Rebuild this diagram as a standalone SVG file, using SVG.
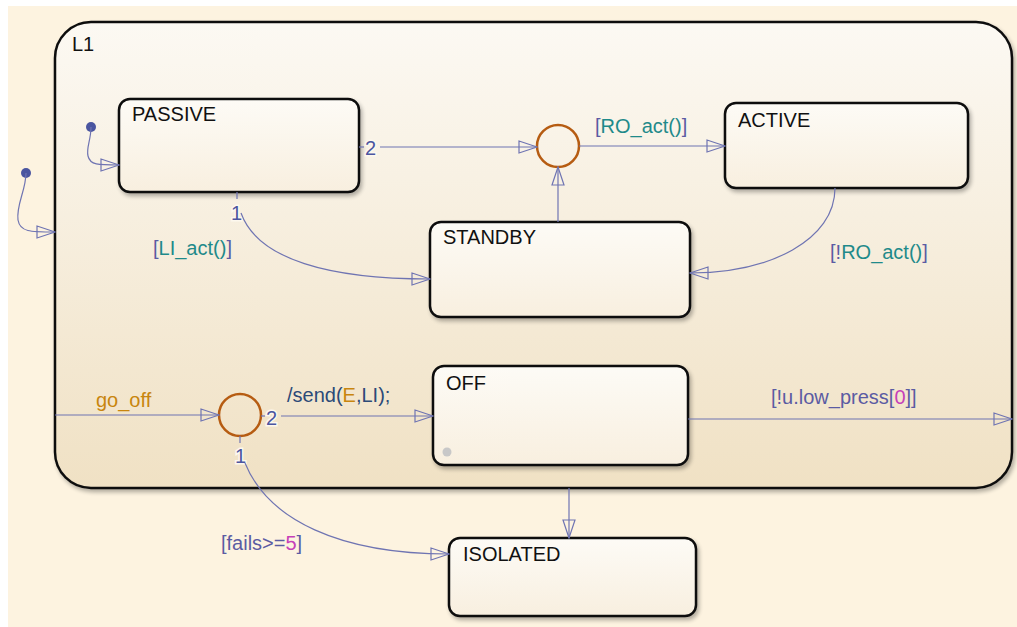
<svg xmlns="http://www.w3.org/2000/svg" width="1017" height="627" viewBox="0 0 1017 627">
<defs>
<linearGradient id="gL1" x1="0" y1="0" x2="0" y2="1">
<stop offset="0" stop-color="#fcf9f3"/>
<stop offset="1" stop-color="#f0e1c4"/>
</linearGradient>
<linearGradient id="gS" x1="0" y1="0" x2="0" y2="1">
<stop offset="0" stop-color="#fdfbf6"/>
<stop offset="1" stop-color="#f8efdf"/>
</linearGradient>
<filter id="sh" x="-10%" y="-10%" width="120%" height="130%">
<feGaussianBlur in="SourceAlpha" stdDeviation="2"/>
<feOffset dx="2" dy="3"/>
<feComponentTransfer><feFuncA type="linear" slope="0.3"/></feComponentTransfer>
<feMerge><feMergeNode/><feMergeNode in="SourceGraphic"/></feMerge>
</filter>
<marker id="arr" viewBox="0 0 20 14" refX="19" refY="7" markerWidth="20" markerHeight="14" markerUnits="userSpaceOnUse" orient="auto">
<path d="M1,1 L19,7 L1,13 Z" fill="none" stroke="#6f74b2" stroke-width="1.2"/>
</marker>
<style>
.st{fill:url(#gS);stroke:#111;stroke-width:2.5;filter:url(#sh)}
.nm{font-family:"Liberation Sans",Arial,sans-serif;font-size:20px;fill:#111}
.cn{fill:none;stroke:#6f74b2;stroke-width:1.2}
.lb{font-family:"Liberation Sans",Arial,sans-serif;font-size:20px}
.br{fill:#5b5ba3}
.tl{fill:#1f8a8a}
.or{fill:#c8850e}
.mg{fill:#c63fb9}
.dk{fill:#2c4a78}
.nb{font-family:"Liberation Sans",Arial,sans-serif;font-size:20px;fill:#4c56a0;paint-order:stroke;stroke:#fdf8ee;stroke-width:3}
.jn{fill:none;stroke:#b65c12;stroke-width:2.5}
.dot{fill:#4a55a0}
</style>
</defs>
<rect x="0" y="0" width="1017" height="627" fill="#ffffff"/>
<rect x="8" y="6" width="1009" height="621" fill="#fdf3e0"/>

<g id="L1">
<rect x="55" y="22" width="957" height="466" rx="36" ry="36" fill="url(#gL1)" stroke="#111" stroke-width="2.5" filter="url(#sh)"/>
<text class="nm" x="72" y="51">L1</text>
</g>

<g id="PASSIVE"><rect class="st" x="119" y="99" width="240" height="93" rx="11"/><text class="nm" x="132" y="121">PASSIVE</text></g>
<g id="ACTIVE"><rect class="st" x="725" y="103" width="243" height="85" rx="11"/><text class="nm" x="738" y="127">ACTIVE</text></g>
<g id="STANDBY"><rect class="st" x="430" y="222" width="260" height="95" rx="11"/><text class="nm" x="443" y="244">STANDBY</text></g>
<g id="OFF"><rect class="st" x="433" y="366" width="255" height="99" rx="11"/><text class="nm" x="446" y="390">OFF</text><circle cx="447" cy="452" r="4.5" fill="#c8c8c8"/></g>
<g id="ISOLATED"><rect class="st" x="449" y="538" width="247" height="78" rx="11"/><text class="nm" x="463" y="561">ISOLATED</text></g>

<g id="J1"><circle class="jn" cx="558" cy="146" r="21"/></g>
<g id="J2"><circle class="jn" cx="240" cy="415" r="21"/></g>

<g id="connectors">
<circle class="dot" cx="26" cy="173" r="5"/>
<path class="cn" d="M26,173 C26,190 16,205 18,220 C20,232 30,232 55,232" marker-end="url(#arr)"/>
<circle class="dot" cx="91" cy="127" r="5"/>
<path class="cn" d="M91,127 C91,140 86,148 88,156 C90,165 98,165 119,165" marker-end="url(#arr)"/>

<line class="cn" x1="359" y1="147" x2="364" y2="147"/>
<text class="nb" x="365" y="155">2</text>
<path class="cn" d="M380,147 L537,147" marker-end="url(#arr)"/>

<path class="cn" d="M579,146 L725,146" marker-end="url(#arr)"/>
<text class="lb" x="595" y="133"><tspan class="br">[</tspan><tspan class="tl">RO_act()</tspan><tspan class="br">]</tspan></text>

<path class="cn" d="M558,222 L558,167" marker-end="url(#arr)"/>

<path class="cn" d="M835,188 C835,240 770,273 690,273" marker-end="url(#arr)"/>
<text class="lb" x="830" y="259"><tspan class="br">[!</tspan><tspan class="tl">RO_act()</tspan><tspan class="br">]</tspan></text>

<line class="cn" x1="237" y1="192" x2="237" y2="199"/>
<text class="nb" x="231" y="220">1</text>
<path class="cn" d="M241,213 C258,260 330,279 430,279" marker-end="url(#arr)"/>
<text class="lb" x="153" y="255"><tspan class="br">[</tspan><tspan class="tl">LI_act()</tspan><tspan class="br">]</tspan></text>

<path class="cn" d="M55,415 L219,415" marker-end="url(#arr)"/>
<text class="lb or" x="96" y="407">go_off</text>

<line class="cn" x1="261" y1="416" x2="265" y2="416"/>
<text class="nb" x="266" y="425">2</text>
<path class="cn" d="M281,416 L433,416" marker-end="url(#arr)"/>
<text class="lb" x="287" y="402"><tspan class="dk">/send(</tspan><tspan class="or">E</tspan><tspan class="dk">,LI);</tspan></text>

<path class="cn" d="M688,419 L1012,419" marker-end="url(#arr)"/>
<text class="lb" x="771" y="404"><tspan class="br">[!u.low_press[</tspan><tspan class="mg">0</tspan><tspan class="br">]]</tspan></text>

<line class="cn" x1="240" y1="436" x2="240" y2="443"/>
<text class="nb" x="235" y="463">1</text>
<path class="cn" d="M245,463 C268,520 340,554 449,554" marker-end="url(#arr)"/>
<text class="lb" x="221" y="550"><tspan class="br">[fails&gt;=</tspan><tspan class="mg">5</tspan><tspan class="br">]</tspan></text>

<path class="cn" d="M569,488 L569,538" marker-end="url(#arr)"/>
</g>
</svg>
